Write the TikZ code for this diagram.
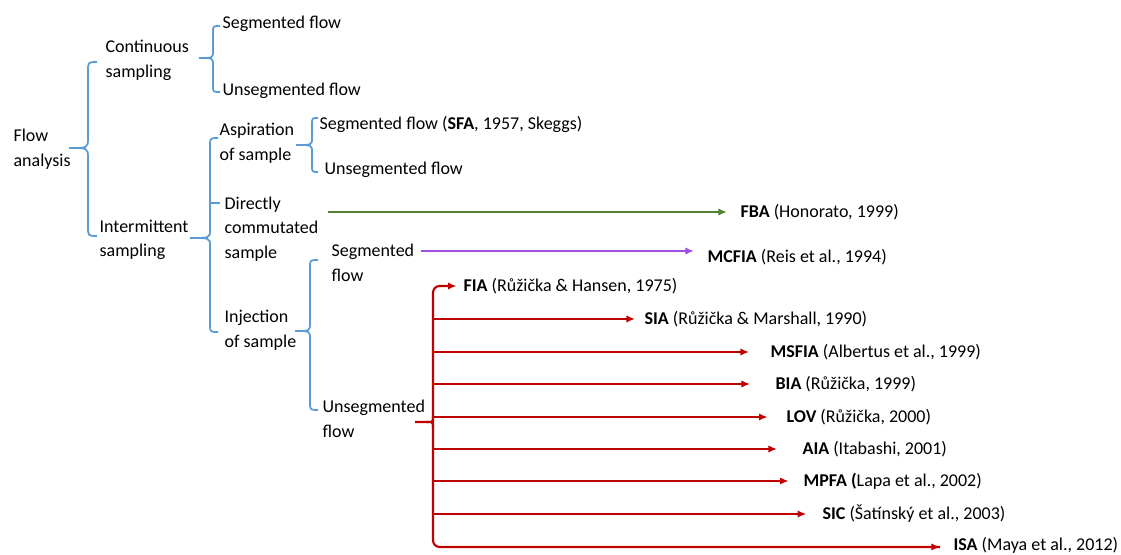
\documentclass[tikz,border=0pt]{standalone}
\usepackage{fontspec}
\setmainfont{Carlito}
\usetikzlibrary{arrows.meta}

\definecolor{bracecol}{RGB}{91,155,213}
\definecolor{fbacol}{RGB}{84,130,53}
\definecolor{mcfcol}{RGB}{160,80,220}
\definecolor{injcol}{RGB}{192,0,0}

% curly brace: end x, spine x, tip x, top y, tip y, bottom y, curl
\newcommand{\curly}[7]{%
  (#1,#4) .. controls (#2,#4) .. (#2,{#4+#7}) -- (#2,{#5-#7})
  .. controls (#2,#5) .. (#3,#5) .. controls (#2,#5) .. (#2,{#5+#7})
  -- (#2,{#6-#7}) .. controls (#2,#6) .. (#1,#6)}

\tikzset{
  lbl/.style={anchor=west, inner sep=1pt, align=left,
    font=\fontsize{13.5}{18.5}\selectfont},
  brc/.style={draw=bracecol, line width=1.3pt},
  arr/.style={line width=1.6pt, -{Latex[length=6.5pt,width=5.5pt]}}
}

\begin{document}
\begin{tikzpicture}[x=0.75pt, y=-0.75pt]
  \useasboundingbox (0,0) rectangle (1121,555);

  % Levels of the tree
  \node[lbl] (flow) at (12,149) {Flow\\analysis};
  \node[lbl] (cont) at (104,60) {Continuous\\sampling};
  \node[lbl] (inter) at (98,240) {Intermittent\\sampling};

  \node[lbl] (segc) at (221,24) {Segmented flow};
  \node[lbl] (unsegc) at (221,91) {Unsegmented flow};

  \node[lbl] (aspir) at (218,143) {Aspiration\\of sample};
  \node[lbl] (direct) at (223,229) {Directly\\commutated\\sample};
  \node[lbl] (inject) at (223,330) {Injection\\of sample};

  \node[lbl] (sfa) at (318,124) {Segmented flow (\textbf{SFA}, 1957, Skeggs)};
  \node[lbl] (unsega) at (323,170) {Unsegmented flow};

  \node[lbl] (segi) at (330,263) {Segmented\\flow};
  \node[lbl] (unsegi) at (321,419) {Unsegmented\\flow};

  \node[lbl] (fba) at (739,212) {\textbf{FBA} (Honorato, 1999)};
  \node[lbl] (mcfia) at (706,257) {\textbf{MCFIA} (Reis et al., 1994)};

  % Blue braces
  \draw[brc] \curly{97}{88}{69}{62}{148}{236}{10};
  \draw[brc] \curly{220}{213}{199}{26}{58}{92}{7};
  \draw[brc] \curly{218}{210}{190}{138}{238}{332}{8};
  \draw[brc] (210,203) -- (220,203);
  \draw[brc] \curly{318}{312}{296}{118}{145}{172}{7};
  \draw[brc] \curly{318}{310}{295}{260}{331}{410}{8};

  % Green and purple arrows
  \coordinate (g0) at (328,212);
  \coordinate (p0) at (421,251);
  \draw[arr, fbacol] (g0) -- ([xshift=-9pt]fba.west);
  \draw[arr, mcfcol] (p0) -- ([xshift=-9pt]mcfia.west |- p0);

  % Red bracket and arrows
  \coordinate (rt) at (415,422);
  \draw[injcol, line width=1.6pt, rounded corners=5pt]
    (433,300) -- (433,547) -- (940,547);
  \draw[injcol, line width=1.6pt] (rt) -- (427,422)
    .. controls (433,422) .. (433,416);
  \draw[injcol, line width=1.6pt] (427,422) .. controls (433,422) .. (433,428);
  \foreach \nm/\y/\tx/\ab/\rest in {
      fia/286/462/FIA/{(Růžička \& Hansen, 1975)},
      sia/319/643/SIA/{(Růžička \& Marshall, 1990)},
      msfia/352/769/MSFIA/{(Albertus et al., 1999)},
      bia/384/774/BIA/{(Růžička, 1999)},
      lov/417/785/LOV/{(Růžička, 2000)},
      aia/449/801/AIA/{(Itabashi, 2001)},
      mpfa/481/802/MPFA/{\textbf{(}Lapa et al., 2002)},
      sic/514/821/SIC/{(Šatínský et al., 2003)},
      isa/545/952/ISA/{(Maya et al., 2012)}} {
    \node[lbl] (\nm) at (\tx,\y) {\textbf{\ab} \rest};
  }
  \draw[arr, injcol, rounded corners=5pt] (433,300) -- (433,286)
    -- ([xshift=-4pt]fia.west);
  \foreach \nm/\gap in {sia/6, msfia/15, bia/18, lov/13, aia/18, mpfa/10,
      sic/11} {
    \draw[arr, injcol] (433,0 |- \nm.west) -- ([xshift=-\gap pt]\nm.west);
  }
  \draw[arr, injcol] (933,547) -- ([xshift=-9pt]isa.west |- 0,547);
\end{tikzpicture}
\end{document}
